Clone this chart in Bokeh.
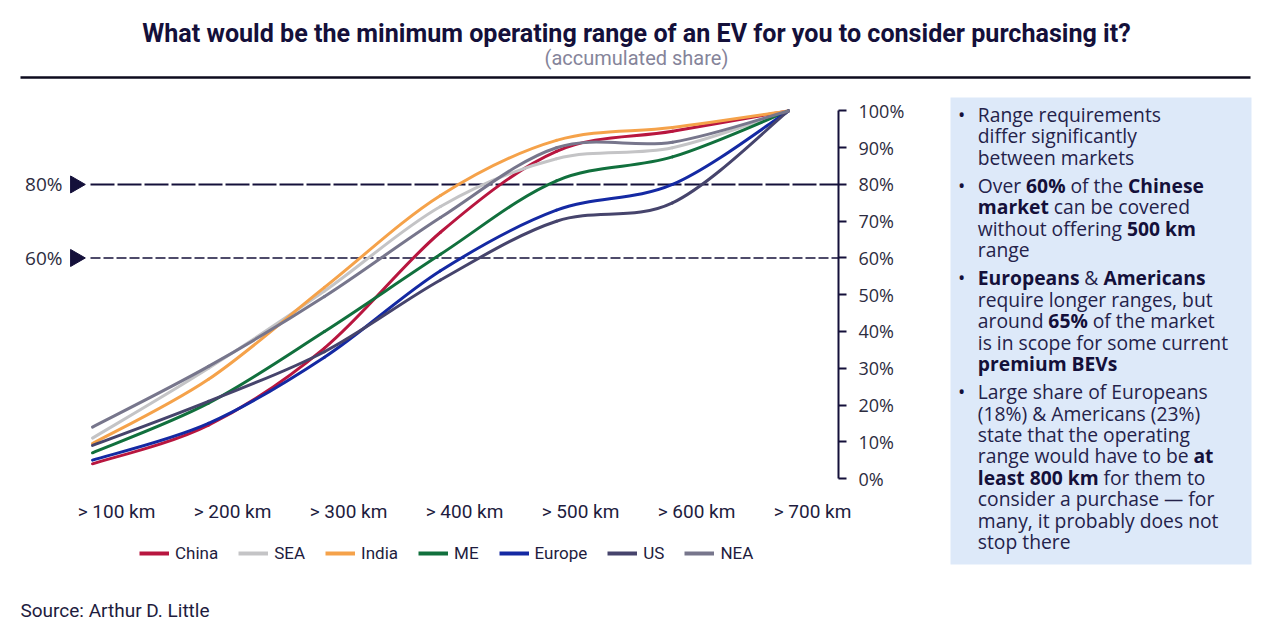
import os
import glob
import struct
import subprocess

import numpy as np
from bokeh.plotting import figure
from bokeh.models import (Range1d, LinearAxis, FixedTicker, PrintfTickFormatter, CustomJSTickFormatter,
                          Legend, LegendItem, Label, ColumnDataSource)
from bokeh.layouts import column, row
from bokeh.embed import file_html
from bokeh.resources import INLINE
from bokeh.core.properties import value

# ---------------- data ----------------
categories = ["> 100 km", "> 200 km", "> 300 km", "> 400 km", "> 500 km", "> 600 km", "> 700 km"]
series_names = ["China", "SEA", "India", "ME", "Europe", "US", "NEA"]
china = [4.0, 14.5, 35.5, 67.0, 89.0, 94.5, 100.0]
sea = [11.0, 30.0, 51.0, 74.0, 87.0, 90.0, 100.0]
india = [9.5, 27.0, 52.0, 77.0, 92.0, 95.5, 100.0]
me = [7.0, 20.5, 40.0, 61.0, 81.0, 87.5, 100.0]
europe = [5.0, 15.0, 33.0, 56.5, 73.0, 80.0, 100.0]
us = [9.0, 21.0, 34.5, 54.0, 70.0, 75.0, 100.0]
nea = [14.0, 30.5, 49.5, 71.0, 90.0, 91.5, 100.0]
percent_ticks = [0, 10, 20, 30, 40, 50, 60, 70, 80, 90, 100]
reference_levels = [80, 60]
reference_labels = ["80%", "60%"]

title_text = "What would be the minimum operating range of an EV for you to consider purchasing it?"
subtitle_text = "(accumulated share)"
source_text = "Source: Arthur D. Little"

box_paragraphs = [
    [[("Range requirements", False)],
     [("differ significantly", False)],
     [("between markets", False)]],
    [[("Over ", False), ("60%", True), (" of the ", False), ("Chinese", True)],
     [("market", True), (" can be covered", False)],
     [("without offering ", False), ("500 km", True)],
     [("range", False)]],
    [[("Europeans", True), (" & ", False), ("Americans", True)],
     [("require longer ranges, but", False)],
     [("around ", False), ("65%", True), (" of the market", False)],
     [("is in scope for some current", False)],
     [("premium BEVs", True)]],
    [[("Large share of Europeans", False)],
     [("(18%) & Americans (23%)", False)],
     [("state that the operating", False)],
     [("range would have to be ", False), ("at", True)],
     [("least 800 km", True), (" for them to", False)],
     [("consider a purchase \u2014 for", False)],
     [("many, it probably does not", False)],
     [("stop there", False)]],
]

series_values = [china, sea, india, me, europe, us, nea]
series_colors = ["#b8163f", "#c4c4c6", "#f5a24a", "#11703d", "#1429a3", "#46446c", "#77768c"]

NAVY = "#14103a"
TEXT = "#1e1c3e"
AXIS_TEXT = "#2d2c40"


# ---------------- font metrics (to lay out mixed bold/regular text) ----------------
def _u16(d, o):
    return struct.unpack_from(">H", d, o)[0]


def _u32(d, o):
    return struct.unpack_from(">I", d, o)[0]


def _f2(d, o):
    return struct.unpack_from(">h", d, o)[0] / 16384.0


class FontMetrics:
    def __init__(self, path):
        d = open(path, "rb").read()
        base = _u32(d, 12) if d[:4] == b"ttcf" else 0
        n = _u16(d, base + 4)
        tabs = {}
        for i in range(n):
            r = base + 12 + 16 * i
            tabs[d[r:r + 4].decode("latin-1")] = _u32(d, r + 8)
        self.tabs = tabs
        self.variable = "fvar" in tabs
        self.upem = _u16(d, tabs["head"] + 18)
        nh = _u16(d, tabs["hhea"] + 34)
        hm = tabs["hmtx"]
        self.adv = [_u16(d, hm + 4 * i) for i in range(nh)]
        cm = tabs["cmap"]
        self.sub = None
        for i in range(_u16(d, cm + 2)):
            pid = _u16(d, cm + 4 + 8 * i)
            eid = _u16(d, cm + 6 + 8 * i)
            off = _u32(d, cm + 8 + 8 * i)
            if _u16(d, cm + off) == 4 and (pid == 0 or (pid == 3 and eid == 1)):
                self.sub = cm + off
                break
        self.d = d
        self.delta = None
        if self.variable and "HVAR" in tabs:
            try:
                self._setup_hvar(700)
            except Exception:
                self.delta = None

    def _setup_hvar(self, wght):
        d, t = self.d, self.tabs
        fv = t["fvar"]
        axes_off = fv + _u16(d, fv + 4)
        axis_count = _u16(d, fv + 8)
        axis_size = _u16(d, fv + 10)
        coords = []
        for i in range(axis_count):
            a = axes_off + i * axis_size
            tag = d[a:a + 4].decode("latin-1")
            mn, df, mx = [struct.unpack_from(">i", d, a + 4 + 4 * k)[0] / 65536.0 for k in range(3)]
            v = max(mn, min(mx, wght if tag == "wght" else df))
            if v < df:
                nv = (v - df) / (df - mn) if df > mn else 0.0
            elif v > df:
                nv = (v - df) / (mx - df) if mx > df else 0.0
            else:
                nv = 0.0
            coords.append(nv)
        if "avar" in t:
            av = t["avar"]
            cnt = _u16(d, av + 6)
            o = av + 8
            for i in range(cnt):
                pc = _u16(d, o)
                o += 2
                maps = [(_f2(d, o + 4 * k), _f2(d, o + 4 * k + 2)) for k in range(pc)]
                o += 4 * pc
                if i < len(coords) and pc > 1:
                    x = coords[i]
                    for k in range(1, pc):
                        if x <= maps[k][0]:
                            x0, y0 = maps[k - 1]
                            x1, y1 = maps[k]
                            coords[i] = y0 + (y1 - y0) * (x - x0) / (x1 - x0) if x1 != x0 else y0
                            break
        hv = t["HVAR"]
        ivs = hv + _u32(d, hv + 4)
        amap_off = _u32(d, hv + 8)
        rl = ivs + _u32(d, ivs + 2)
        rl_axis = _u16(d, rl)
        rl_count = _u16(d, rl + 2)
        scalars = []
        for r in range(rl_count):
            s = 1.0
            for a in range(rl_axis):
                bo = rl + 4 + (r * rl_axis + a) * 6
                st, pk, en = _f2(d, bo), _f2(d, bo + 2), _f2(d, bo + 4)
                c = coords[a] if a < len(coords) else 0.0
                if pk == 0 or st > pk or pk > en or (st < 0 < en):
                    continue
                if c == pk:
                    continue
                if c <= st or c >= en:
                    s = 0.0
                    break
                s *= (c - st) / (pk - st) if c < pk else (en - c) / (en - pk)
            scalars.append(s)
        ndata = _u16(d, ivs + 6)
        data_offs = [ivs + _u32(d, ivs + 8 + 4 * i) for i in range(ndata)]

        def delta(outer, inner):
            ivd = data_offs[outer]
            wdc = _u16(d, ivd + 2)
            ric = _u16(d, ivd + 4)
            regs = [_u16(d, ivd + 6 + 2 * k) for k in range(ric)]
            long_words = bool(wdc & 0x8000)
            wc = wdc & 0x7FFF
            rowlen = wc * 4 + (ric - wc) * 2 if long_words else wc * 2 + (ric - wc)
            o = ivd + 6 + 2 * ric + inner * rowlen
            tot = 0.0
            for k in range(ric):
                if k < wc:
                    fmt, sz = (">i", 4) if long_words else (">h", 2)
                else:
                    fmt, sz = (">h", 2) if long_words else (">b", 1)
                v = struct.unpack_from(fmt, d, o)[0]
                o += sz
                tot += v * scalars[regs[k]]
            return tot

        if amap_off:
            m = hv + amap_off
            fmt = d[m]
            ef = d[m + 1]
            if fmt == 0:
                cnt = _u16(d, m + 2)
                md = m + 4
            else:
                cnt = _u32(d, m + 2)
                md = m + 6
            inner_bits = (ef & 0x0F) + 1
            esize = ((ef & 0x30) >> 4) + 1

            def mapidx(g):
                g = min(g, cnt - 1)
                e = int.from_bytes(d[md + g * esize: md + (g + 1) * esize], "big")
                return e >> inner_bits, e & ((1 << inner_bits) - 1)
        else:
            def mapidx(g):
                return 0, g
        self.delta = lambda g: delta(*mapidx(g))

    def gid(self, c):
        d, s = self.d, self.sub
        segx2 = _u16(d, s + 6)
        ends = s + 14
        starts = ends + segx2 + 2
        deltas = starts + segx2
        ranges = deltas + segx2
        for i in range(segx2 // 2):
            if c <= _u16(d, ends + 2 * i):
                st = _u16(d, starts + 2 * i)
                if c < st:
                    return 0
                delta = _u16(d, deltas + 2 * i)
                ro = _u16(d, ranges + 2 * i)
                if ro == 0:
                    return (c + delta) & 0xFFFF
                g = _u16(d, ranges + 2 * i + ro + 2 * (c - st))
                return (g + delta) & 0xFFFF if g else 0
        return 0

    def char_width(self, ch, bold=False):
        g = self.gid(ord(ch))
        w = self.adv[min(g, len(self.adv) - 1)]
        if bold and self.delta is not None:
            w += self.delta(g)
        return w / self.upem


def _font_file(family, bold):
    key = family.replace(" ", "").lower()
    try:
        r = subprocess.run(["fc-match", "-f", "%{file}", family + (":bold" if bold else ":regular")],
                           capture_output=True, text=True, timeout=10)
        f = r.stdout.strip()
        if f and os.path.exists(f) and key in os.path.basename(f).replace(" ", "").lower():
            return f
    except Exception:
        pass
    cands = []
    for root in ["/usr/share/fonts", "/usr/local/share/fonts", os.path.expanduser("~/.fonts")]:
        cands += glob.glob(root + "/**/*.ttf", recursive=True) + glob.glob(root + "/**/*.otf", recursive=True)
    names = [(os.path.basename(c).lower(), c) for c in cands]
    want = "bold" if bold else "regular"
    for nm, c in names:
        if nm.startswith(key + "-" + want + "."):
            return c
    for nm, c in names:
        if nm.startswith(key) and "[" in nm and "italic" not in nm:
            return c
    return None


_cache = {}
_bold_factor = {"Open Sans": 1.07, "Roboto": 1.0}


def em_width(text, family, bold=False):
    k = (family, bold)
    if k not in _cache:
        fm = None
        try:
            f = _font_file(family, bold)
            if f:
                fm = FontMetrics(f)
        except Exception:
            fm = None
        _cache[k] = fm
    fm = _cache[k]
    if fm is not None and fm.sub is not None:
        try:
            tot = 0.0
            exact = (not bold) or (not fm.variable) or (fm.delta is not None)
            for ch in text:
                w = fm.char_width(ch, bold)
                if not exact and ch.isalpha():
                    w *= _bold_factor.get(family, 1.05)
                tot += w
            return tot
        except Exception:
            pass
    return 0.55 * len(text) * (1.07 if bold else 1.0)


def fit(text, family, bold, target, lo, hi):
    w = em_width(text, family, bold)
    s = target / w if w > 0 else (lo + hi) / 2
    return max(lo, min(hi, s))


def plain_fig(w, h, xr, yr, **kw):
    opts = dict(min_border=0)
    opts.update(kw)
    f = figure(width=w, height=h, x_range=xr, y_range=yr,
               x_axis_location=None, y_axis_location=None, toolbar_location=None,
               output_backend="svg", outline_line_color=None, **opts)
    f.grid.visible = False
    f.background_fill_color = "white"
    f.border_fill_color = "white"
    return f


# ---------------- title strip (page y 0..88) ----------------
TOTAL_W = 1270
TH = 88
tfig = plain_fig(TOTAL_W, TH, Range1d(0, TOTAL_W), Range1d(TH, 0))
title_size = fit(title_text, "Roboto", True, 990, 16, 26)
sub_size = fit(subtitle_text, "Roboto", False, 185, 14, 20)
tfig.text(x=[636], y=[33], text=[title_text], text_align="center", text_baseline="middle",
          text_font=value("Roboto"), text_font_style="bold", text_font_size=f"{title_size:.1f}px",
          text_color=NAVY)
tfig.text(x=[636], y=[57], text=[subtitle_text], text_align="center", text_baseline="middle",
          text_font=value("Roboto"), text_font_size=f"{sub_size:.1f}px", text_color="#85849a")
tfig.segment(x0=[20], y0=[77], x1=[1250], y1=[77], line_color="#0d0b1e", line_width=2.5)

# ---------------- main chart (page x 0..943, y 88..525) ----------------
MW = 943
FRAME_W = 838
RIGHT_B = MW - FRAME_W
px_unit = 116.0
x0_px = 92.0
px_pct = 3.685
FRAME_H = 404      # page 88..492
BOTTOM_B = 33      # page 492..525 (category labels)
CH = FRAME_H + BOTTOM_B
top_px = 22.5      # frame top -> 100 %
zero_px = 391.0    # frame top -> 0 %
x_start = -x0_px / px_unit
x_end = (FRAME_W - x0_px) / px_unit
y_end = 100 + top_px / px_pct
y_start = -(FRAME_H - zero_px) / px_pct

p = figure(width=MW, height=CH, x_range=Range1d(x_start, x_end), y_range=Range1d(y_start, y_end),
           x_axis_location=None, y_axis_location=None, toolbar_location=None,
           output_backend="svg", min_border_left=0, min_border_top=0, min_border_bottom=BOTTOM_B,
           min_border_right=RIGHT_B, outline_line_color=None)
p.grid.visible = False
p.background_fill_color = "white"
p.border_fill_color = "white"

xs = list(range(len(categories)))

# reference lines
dash_x0 = xs[0] - 2 / px_unit
p.segment(x0=[dash_x0], y0=[reference_levels[0]], x1=[x_end], y1=[reference_levels[0]],
          line_color=NAVY, line_width=2, line_dash="24 3")
p.segment(x0=[dash_x0], y0=[reference_levels[1]], x1=[x_end], y1=[reference_levels[1]],
          line_color=NAVY, line_width=1.5, line_dash="10 3")
tri_x = xs[0] - 17 / px_unit
p.scatter(x=[tri_x] * len(reference_levels), y=reference_levels, marker="triangle", size=17,
          angle=-np.pi / 2, fill_color=NAVY, line_color=NAVY)
for lvl, lab in zip(reference_levels, reference_labels):
    p.add_layout(Label(x=62, y=lvl, x_units="screen", y_units="data", text=lab,
                       text_align="right", text_baseline="middle", text_font="Open Sans",
                       text_font_size="19px", text_color=AXIS_TEXT))


def bezier_source(xv, yv):
    n = len(xv)
    d = dict(x0=[], y0=[], x1=[], y1=[], cx0=[], cy0=[], cx1=[], cy1=[])
    for i in range(n - 1):
        a = max(i - 1, 0)
        b = min(i + 2, n - 1)
        d["x0"].append(xv[i]); d["y0"].append(yv[i])
        d["x1"].append(xv[i + 1]); d["y1"].append(yv[i + 1])
        d["cx0"].append(xv[i] + (xv[i + 1] - xv[a]) / 6.0)
        d["cy0"].append(yv[i] + (yv[i + 1] - yv[a]) / 6.0)
        d["cx1"].append(xv[i + 1] - (xv[b] - xv[i]) / 6.0)
        d["cy1"].append(yv[i + 1] - (yv[b] - yv[i]) / 6.0)
    return ColumnDataSource(d)


for name, vals, col in zip(series_names, series_values, series_colors):
    p.bezier(x0="x0", y0="y0", x1="x1", y1="y1", cx0="cx0", cy0="cy0", cx1="cx1", cy1="cy1",
             source=bezier_source(xs, vals), line_color=col, line_width=3, line_cap="round")

# right percentage axis
yaxis = LinearAxis(bounds=(0, 100), ticker=FixedTicker(ticks=percent_ticks),
                   formatter=PrintfTickFormatter(format="%d%%"))
yaxis.axis_line_color = NAVY
yaxis.axis_line_width = 2
yaxis.major_tick_line_color = NAVY
yaxis.major_tick_line_width = 2
yaxis.major_tick_in = 0
yaxis.major_tick_out = 8
yaxis.minor_tick_line_color = None
yaxis.major_label_standoff = 12
yaxis.major_label_text_font = "Open Sans"
yaxis.major_label_text_font_size = "18px"
yaxis.major_label_text_color = AXIS_TEXT
p.add_layout(yaxis, "right")

# category axis (labels sit a little to the right of the data points, as in the original)
label_dx = 24 / px_unit
p.extra_x_ranges = {"labels": Range1d(x_start - label_dx, x_end - label_dx)}
xl_size = fit("> 100 km", "Roboto", False, 78, 14, 19)
xaxis = LinearAxis(x_range_name="labels", ticker=FixedTicker(ticks=xs),
                   formatter=CustomJSTickFormatter(args=dict(labels=categories),
                                                   code="return labels[Math.round(tick)] || ''"))
xaxis.axis_line_color = None
xaxis.major_tick_line_color = None
xaxis.minor_tick_line_color = None
xaxis.major_tick_in = 0
xaxis.major_tick_out = 0
xaxis.major_label_standoff = 8
xaxis.major_label_text_font = "Roboto"
xaxis.major_label_text_font_size = f"{xl_size:.1f}px"
xaxis.major_label_text_color = TEXT
p.add_layout(xaxis, "below")

# ---------------- legend and source (page x 0..943, y 525..630) ----------------
BH2 = 105
q = plain_fig(MW, BH2, Range1d(0, FRAME_W), Range1d(0, BH2), min_border_right=RIGHT_B)
items = []
for name, col in zip(series_names, series_colors):
    r = q.line(x=[np.nan], y=[np.nan], line_color=col, line_width=4)
    items.append(LegendItem(label=name, renderers=[r]))
legend = Legend(items=items, orientation="horizontal", location=(139, 67), padding=0, margin=0,
                spacing=20, label_standoff=6, glyph_width=30, glyph_height=20, label_height=20,
                label_text_font="Roboto", label_text_font_size="17px", label_text_color=TEXT,
                border_line_color=None, background_fill_alpha=0)
q.add_layout(legend)

src_size = fit(source_text, "Roboto", False, 192, 14, 19)
q.add_layout(Label(x=20, y=20, x_units="screen", y_units="screen", text=source_text,
                   text_align="left", text_baseline="middle", text_font="Roboto",
                   text_font_size=f"{src_size:.1f}px", text_color=TEXT))

# ---------------- text box (page x 943..1270, y 88..630) ----------------
BW, BH = TOTAL_W - MW, CH + BH2
b = plain_fig(BW, BH, Range1d(0, BW), Range1d(BH, 0))
b.quad(left=[7], right=[308], top=[9], bottom=[476], fill_color="#dde9f9", line_color=None)

BF = "Open Sans"
box_size = fit("Range requirements", BF, False, 183, 15, 19.5)
text_x = 34.3
bullet_x = 18
line_y = 26.0
line_step = 21.45
para_gap = 28.0

reg = dict(x=[], y=[], t=[])
bold = dict(x=[], y=[], t=[])
bul_y = []
for pi, para in enumerate(box_paragraphs):
    if pi > 0:
        line_y += para_gap - line_step
    bul_y.append(line_y)
    for line in para:
        cx = text_x
        for seg, isb in line:
            lead = len(seg) - len(seg.lstrip(" "))
            sx = cx + (em_width(" " * lead, BF, isb) * box_size if lead else 0)
            tgt = bold if isb else reg
            tgt["x"].append(sx)
            tgt["y"].append(line_y)
            tgt["t"].append(seg.strip(" "))
            cx += em_width(seg, BF, isb) * box_size
        line_y += line_step

b.text(x=reg["x"], y=reg["y"], text=reg["t"], text_align="left", text_baseline="middle",
       text_font=value(BF), text_font_size=f"{box_size:.1f}px", text_color="#24224a")
b.text(x=bold["x"], y=bold["y"], text=bold["t"], text_align="left", text_baseline="middle",
       text_font=value(BF), text_font_style="bold", text_font_size=f"{box_size:.1f}px",
       text_color=NAVY)
b.text(x=[bullet_x] * len(bul_y), y=bul_y, text=["\u2022"] * len(bul_y), text_align="center",
       text_baseline="middle", text_font=value(BF), text_font_size=f"{box_size:.1f}px",
       text_color=NAVY)

layout = column(tfig, row(column(p, q), b))
open("out.html", "w").write(file_html(layout, INLINE))
